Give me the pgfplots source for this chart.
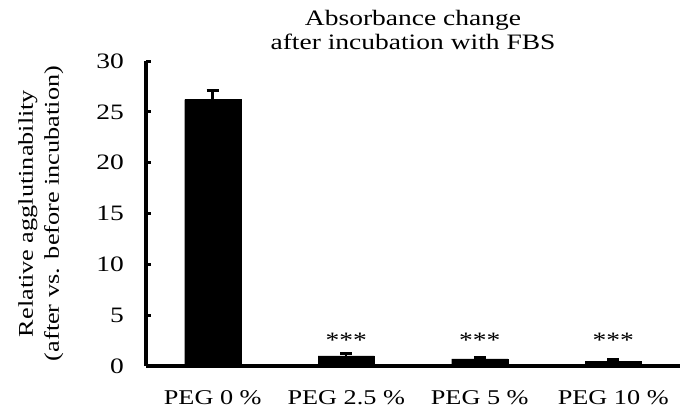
\documentclass[border=0pt]{standalone}
\usepackage{pgfplots}
\pgfplotsset{compat=1.18}
\usepackage{fontspec}
\setmainfont{Liberation Serif}[FakeStretch=1.25]
\begin{document}
\begin{tikzpicture}[x=1pt,y=1pt]
\useasboundingbox (-146,-50) rectangle (534,366);
\begin{axis}[
  at={(0,0)}, anchor=south west,
  scale only axis,
  width=534pt, height=305pt,
  xmin=-0.5, xmax=3.5,
  ymin=0, ymax=30,
  axis x line=bottom, axis y line=left,
  axis line style={-, line width=3.5pt, black},
  ytick={0,5,...,30},
  xtick={0,1,2,3},
  xticklabels={PEG 0 \%, PEG 2.5 \%, PEG 5 \%, PEG 10 \%},
  x tick style={draw=none},
  y tick style={line width=3pt, black},
  tick align=inside,
  major tick length=5pt,
  /pgf/number format/assume math mode=true,
  yticklabel style={font=\fontsize{22}{24}\selectfont, inner sep=0pt, anchor=east, xshift=-22pt},
  xticklabel style={font=\fontsize{21}{24}\selectfont, inner sep=0pt, anchor=north, yshift=-24pt},
  ylabel={Relative agglutinability\\(after vs. before incubation)},
  ylabel style={align=center, font=\fontsize{21}{26}\selectfont, inner sep=0pt, at={(axis description cs:-0.197,0.5)}, anchor=center},
  title={Absorbance change\\after incubation with FBS},
  title style={align=center, font=\fontsize{22}{24}\selectfont, at={(0.5,1)}, yshift=2pt},
  clip=false,
]
\addplot[ybar, bar width=0.42, fill=black, draw=black,
  error bars/.cd, y dir=plus, y explicit,
  error bar style={line width=2.5pt, black},
  error mark options={rotate=90, line width=3pt, mark size=6pt, black}]
  coordinates {
    (0,26.2) +- (0,0.9)
    (1,1.0) +- (0,0.25)
    (2,0.7) +- (0,0.17)
    (3,0.47) +- (0,0.17)
  };
\node[anchor=base, font=\fontsize{22}{22}\selectfont] at (axis cs:1,1.85) {***};
\node[anchor=base, font=\fontsize{22}{22}\selectfont] at (axis cs:2,1.85) {***};
\node[anchor=base, font=\fontsize{22}{22}\selectfont] at (axis cs:3,1.85) {***};
\end{axis}
\end{tikzpicture}
\end{document}
